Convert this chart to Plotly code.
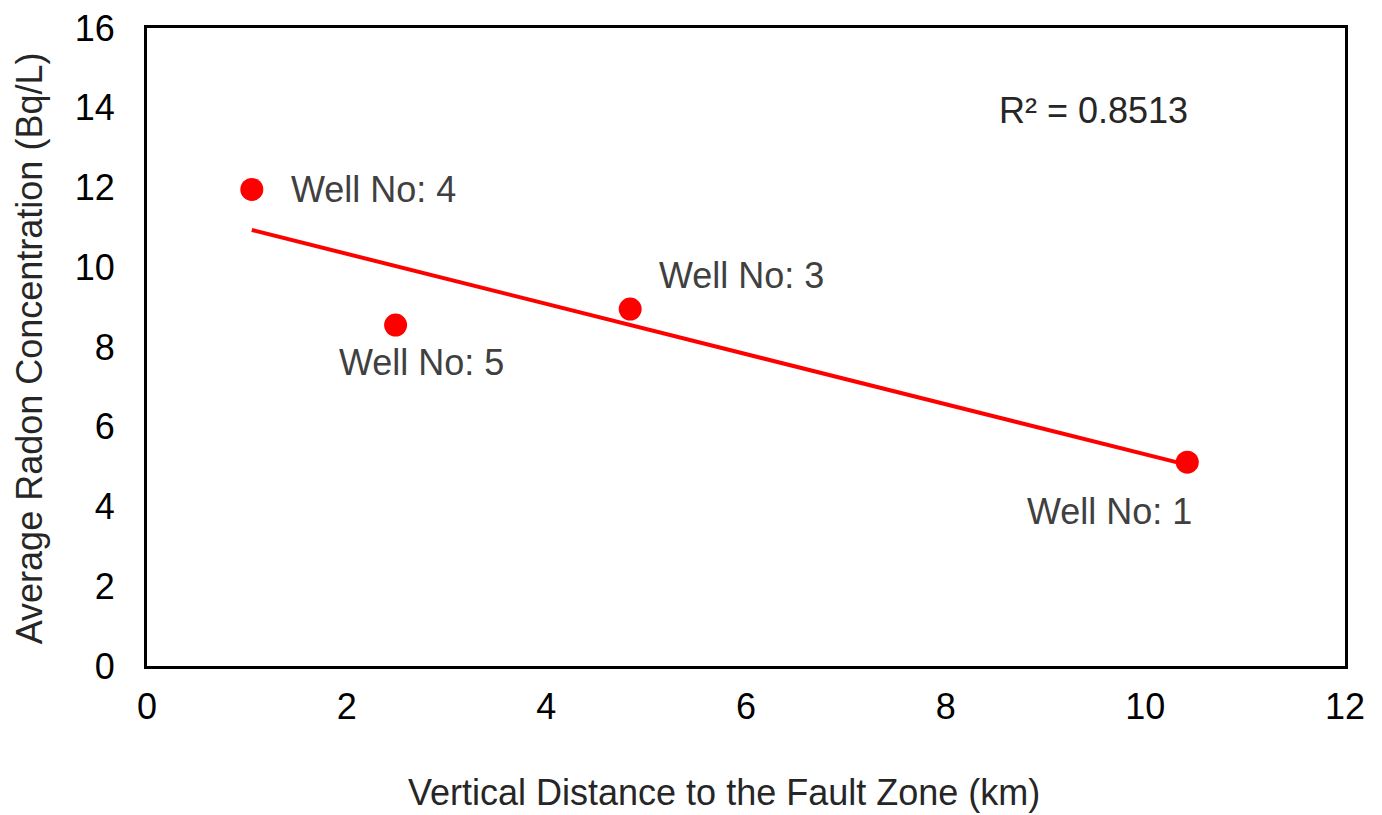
import numpy as np
import plotly.graph_objects as go

wells = ["Well No: 4", "Well No: 5", "Well No: 3", "Well No: 1"]
distance_km = [1.05, 2.49, 4.84, 10.42]
radon_bq_l = [11.95, 8.55, 8.95, 5.11]
r2_text = "R² = 0.8513"
x_title = "Vertical Distance to the Fault Zone (km)"
y_title = "Average Radon Concentration (Bq/L)"
x_ticks = [0, 2, 4, 6, 8, 10, 12]
y_ticks = [0, 2, 4, 6, 8, 10, 12, 14, 16]

slope, intercept = np.polyfit(distance_km, radon_bq_l, 1)
tx = [min(distance_km), max(distance_km)]
ty = [slope * v + intercept for v in tx]

font = "Liberation Sans, Arial, sans-serif"
fs = 36
fig = go.Figure()
fig.add_trace(go.Scatter(x=tx, y=ty, mode="lines",
                         line=dict(color="#ff0000", width=4), hoverinfo="skip"))
fig.add_trace(go.Scatter(x=distance_km, y=radon_bq_l, mode="markers",
                         marker=dict(color="#ff0000", size=23), text=wells))

shifts = {"Well No: 4": (122, 0), "Well No: 5": (26, -37),
          "Well No: 3": (111, 34), "Well No: 1": (-78, -49)}
for w, x, y in zip(wells, distance_km, radon_bq_l):
    sx, sy = shifts[w]
    fig.add_annotation(x=x, y=y, text=w, showarrow=False, xshift=sx, yshift=sy,
                       xanchor="center", yanchor="middle",
                       font=dict(family=font, size=fs, color="#404040"))

fig.add_annotation(x=0.79, y=0.871, xref="paper", yref="paper", text=r2_text,
                   showarrow=False, xanchor="center", yanchor="middle",
                   font=dict(family=font, size=fs, color="#262626"))

# axis titles
fig.add_annotation(x=0.4816, y=0, xref="paper", yref="paper", text=x_title,
                   showarrow=False, xanchor="center", yanchor="middle", yshift=-126,
                   font=dict(family=font, size=fs, color="#262626"))
fig.add_annotation(x=0, y=0.498, xref="paper", yref="paper", text=y_title,
                   showarrow=False, xanchor="center", yanchor="middle", xshift=-118,
                   textangle=-90,
                   font=dict(family=font, size=fs, color="#262626"))

axis_common = dict(showgrid=False, zeroline=False, showline=True, linecolor="black",
                   linewidth=3, mirror=True, ticks="", ticklabeloverflow="allow",
                   automargin=False,
                   tickfont=dict(family=font, size=fs, color="#000000"))
fig.update_xaxes(range=[0, 12], tickvals=x_ticks, ticklabelstandoff=7, **axis_common)
fig.update_yaxes(range=[0, 16], tickvals=y_ticks, ticklabelstandoff=22, **axis_common)
fig.update_layout(width=1382, height=815, showlegend=False,
                  plot_bgcolor="white", paper_bgcolor="white",
                  margin=dict(l=139, r=45, t=20, b=157, autoexpand=False))
fig.write_html("out.html")
